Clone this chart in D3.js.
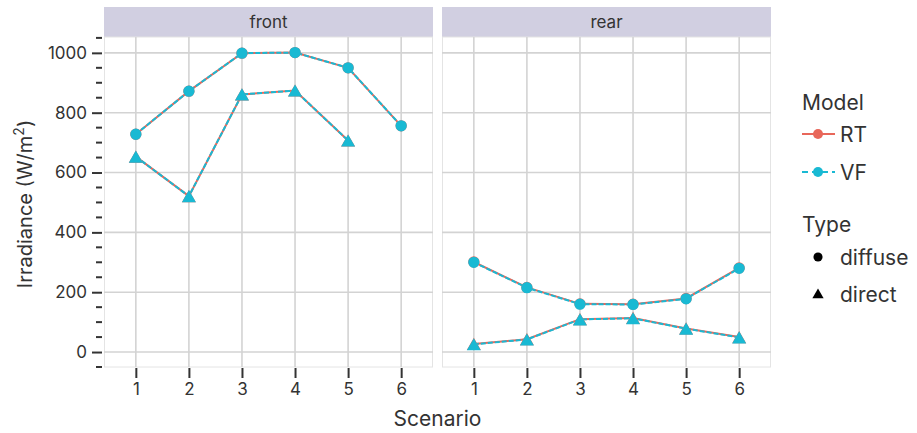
<!DOCTYPE html>
<html lang="en">
<head>
  <meta charset="UTF-8">
  <title>Irradiance by scenario</title>
  <script src='https://d3js.org/d3.v7.min.js'></script>
  <style>
    body { margin: 0; background: #fff; }
    text { font-family: Inter, "Noto Sans", sans-serif; fill: #333; }
  </style>
</head>
<body>
</body>
<script>
  // Data
  const scenarios = [1, 2, 3, 4, 5, 6];
  const facets = ["front", "rear"];
  const models = ["RT", "VF"];
  const types = ["diffuse", "direct"];

  // values per scenario (null = missing)
  const frontDiffuseRT = [728, 872, 999, 1001, 950, 756];
  const frontDiffuseVF = [728, 872, 999, 1001, 950, 756];
  const frontDirectRT = [653, 521, 861, 874, 707, null];
  const frontDirectVF = [653, 521, 861, 874, 707, null];
  const rearDiffuseRT = [301, 216, 161, 160, 179, 281];
  const rearDiffuseVF = [300, 215, 160, 159, 178, 280];
  const rearDirectRT = [27, 43, 110, 114, 79, 50];
  const rearDirectVF = [26, 42, 109, 113, 78, 49];

  const yTicks = [0, 200, 400, 600, 800, 1000];

  const series = [
    {facet: "front", model: "RT", type: "diffuse", values: frontDiffuseRT},
    {facet: "front", model: "RT", type: "direct", values: frontDirectRT},
    {facet: "rear", model: "RT", type: "diffuse", values: rearDiffuseRT},
    {facet: "rear", model: "RT", type: "direct", values: rearDirectRT},
    {facet: "front", model: "VF", type: "diffuse", values: frontDiffuseVF},
    {facet: "front", model: "VF", type: "direct", values: frontDirectVF},
    {facet: "rear", model: "VF", type: "diffuse", values: rearDiffuseVF},
    {facet: "rear", model: "VF", type: "direct", values: rearDirectVF}
  ];

  const colors = {RT: "#e8675a", VF: "#19b9d3"};

  const width = 917, height = 433;
  const panelTop = 37, panelBottom = 367;
  const stripH = 30;
  const panelX = {front: 104, rear: 442};
  const panelW = 329;

  const svg = d3.select("body").append("svg")
    .attr("width", width)
    .attr("height", height);

  const y = d3.scaleLinear()
    .domain([-50, 1053])
    .range([panelBottom, panelTop]);

  const x = d3.scaleLinear()
    .domain([0.4, 6.6])
    .range([0, panelW]);

  const triangle = d3.symbol().type(d3.symbolTriangle).size(85);
  const circle = d3.symbol().type(d3.symbolCircle).size(100);

  facets.forEach(f => {
    const g = svg.append("g").attr("transform", `translate(${panelX[f]},0)`);

    // strip
    g.append("rect")
      .attr("x", 0).attr("y", panelTop - stripH)
      .attr("width", panelW).attr("height", stripH)
      .attr("fill", "#d1cfe1");
    g.append("text")
      .attr("x", panelW / 2).attr("y", panelTop - stripH / 2)
      .attr("text-anchor", "middle").attr("dominant-baseline", "central")
      .style("font-size", "17px")
      .text(f);

    // panel border
    g.append("rect")
      .attr("x", 0.5).attr("y", panelTop)
      .attr("width", panelW - 1).attr("height", panelBottom - panelTop)
      .attr("fill", "none").attr("stroke", "#e4e4e4").attr("stroke-width", 1);

    // grid
    g.selectAll(".hgrid").data(yTicks).enter().append("line")
      .attr("x1", 0).attr("x2", panelW)
      .attr("y1", d => y(d)).attr("y2", d => y(d))
      .attr("stroke", "#d3d3d3").attr("stroke-width", 1.6);
    g.selectAll(".vgrid").data(scenarios).enter().append("line")
      .attr("x1", d => x(d)).attr("x2", d => x(d))
      .attr("y1", panelTop).attr("y2", panelBottom)
      .attr("stroke", "#d3d3d3").attr("stroke-width", 1.6);

    // x axis ticks
    const xAxis = g.append("g")
      .attr("transform", `translate(0,${panelBottom})`)
      .call(d3.axisBottom(x).tickValues(scenarios).tickSize(11).tickPadding(5).tickFormat(d3.format("d")));
    xAxis.select(".domain").remove();
    xAxis.selectAll(".tick line").attr("stroke", "#333").attr("stroke-width", 2)
      .attr("y1", 1).attr("y2", 11);
    xAxis.selectAll("text").style("font-size", "17px").attr("fill", "#333");

    const line = d3.line()
      .defined(d => d != null)
      .x((d, i) => x(scenarios[i]))
      .y(d => y(d));

    const ss = series.filter(s => s.facet === f);
    ss.forEach(s => {
      g.append("path")
        .attr("d", line(s.values))
        .attr("fill", "none")
        .attr("stroke", colors[s.model])
        .attr("stroke-width", 2)
        .attr("stroke-dasharray", s.model === "VF" ? "5,2" : null);
    });
    ss.forEach(s => {
      const pts = s.values.map((v, i) => ({v, i})).filter(d => d.v != null);
      g.selectAll(null).data(pts).enter().append("path")
        .attr("transform", d => `translate(${x(scenarios[d.i])},${y(d.v) + (s.type === "direct" ? 2 : 0)})`)
        .attr("d", s.type === "direct" ? triangle : circle)
        .attr("fill", colors[s.model]);
    });
  });

  // y axis
  const yAxis = svg.append("g")
    .attr("transform", `translate(${panelX.front},0)`)
    .call(d3.axisLeft(y).tickValues(yTicks).tickSize(12).tickPadding(5).tickFormat(d3.format("d")));
  yAxis.select(".domain").remove();
  yAxis.selectAll(".tick line").attr("stroke", "#333").attr("stroke-width", 2)
    .attr("x1", -2).attr("x2", -12);
  yAxis.selectAll("text").style("font-size", "17px").attr("fill", "#333");
  const minor = d3.range(-50, 1051, 50).filter(v => v % 200 !== 0);
  svg.append("g").selectAll("line").data(minor).enter().append("line")
    .attr("x1", panelX.front - 8).attr("x2", panelX.front - 2)
    .attr("y1", d => y(d)).attr("y2", d => y(d))
    .attr("stroke", "#333").attr("stroke-width", 2);

  // axis titles
  svg.append("text")
    .attr("transform", `translate(32,${(panelTop + panelBottom) / 2 + 2}) rotate(-90)`)
    .attr("text-anchor", "middle")
    .style("font-size", "20px")
    .html('Irradiance (W/m<tspan baseline-shift="super" font-size="14px">2</tspan>)');
  svg.append("text")
    .attr("x", (panelX.front + panelX.rear + panelW) / 2).attr("y", 426)
    .attr("text-anchor", "middle")
    .style("font-size", "21px")
    .text("Scenario");

  // legend
  const lg = svg.append("g").attr("transform", "translate(802,0)");
  lg.append("text").attr("x", 0).attr("y", 110).style("font-size", "21px").text("Model");
  models.forEach((m, i) => {
    const cy = 134 + i * 38;
    lg.append("line").attr("x1", 0).attr("x2", 33).attr("y1", cy).attr("y2", cy)
      .attr("stroke", colors[m]).attr("stroke-width", 2)
      .attr("stroke-dasharray", m === "VF" ? "6,4" : null);
    lg.append("circle").attr("cx", 16).attr("cy", cy).attr("r", 5).attr("fill", colors[m]);
    lg.append("text").attr("x", 38).attr("y", cy).attr("dominant-baseline", "central")
      .style("font-size", "21px").text(m);
  });
  lg.append("text").attr("x", 0).attr("y", 232).style("font-size", "21px").text("Type");
  types.forEach((t, i) => {
    const cy = 257 + i * 37;
    lg.append("path")
      .attr("transform", `translate(16,${cy + (t === "direct" ? 1 : 0)})`)
      .attr("d", d3.symbol().type(t === "direct" ? d3.symbolTriangle : d3.symbolCircle).size(t === "direct" ? 55 : 65))
      .attr("fill", "#000");
    lg.append("text").attr("x", 38).attr("y", cy).attr("dominant-baseline", "central")
      .style("font-size", "21px").text(t);
  });
</script>
</html>
